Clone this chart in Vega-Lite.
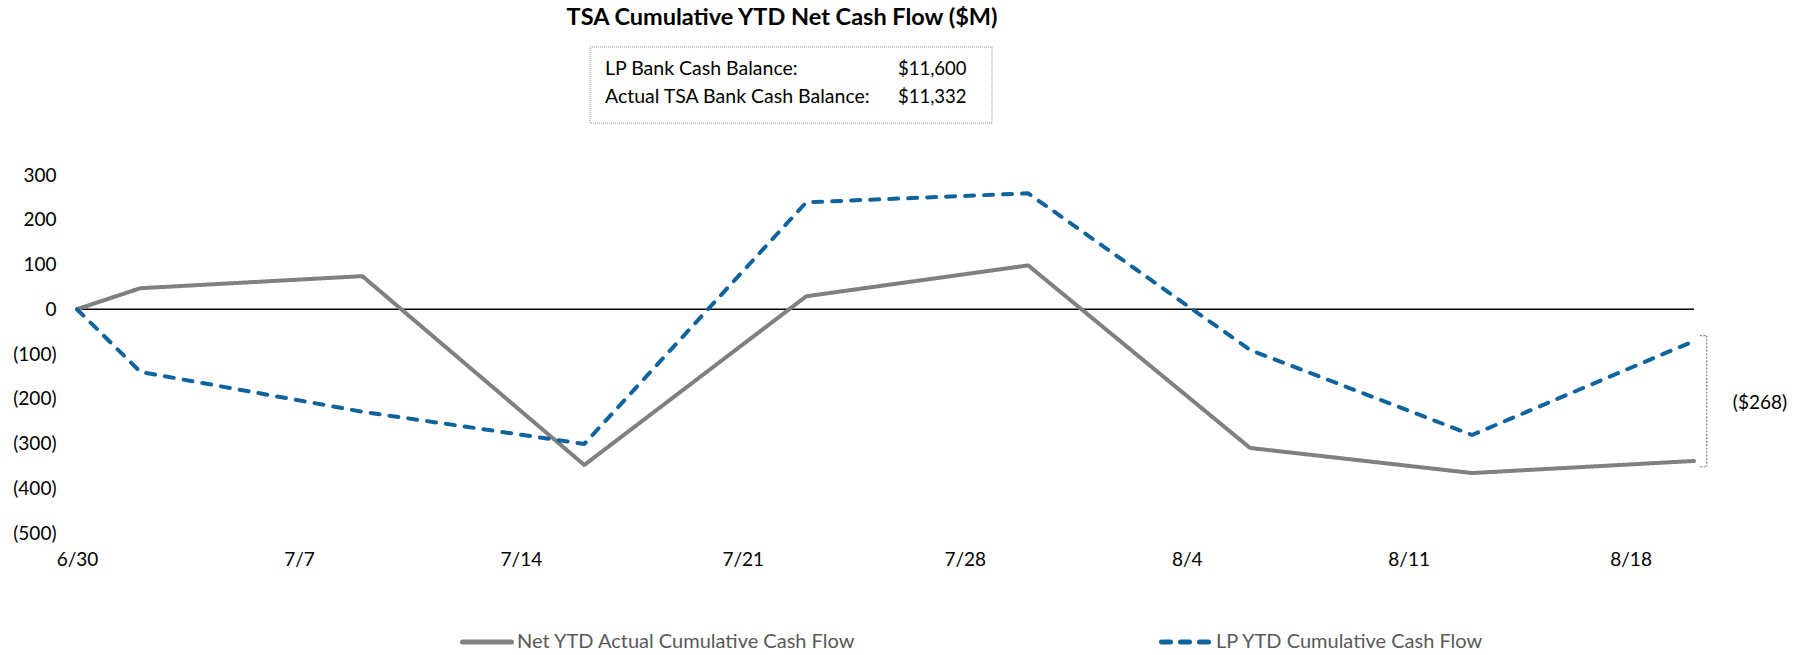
{
  "$schema": "https://vega.github.io/schema/vega-lite/v6.json",
  "autosize": {"type": "none"},
  "width": 1617,
  "height": 358,
  "padding": {"left": 77, "top": 175, "right": 119, "bottom": 122},
  "background": "white",
  "config": {
    "view": {"stroke": null},
    "font": "Lato",
    "axis": {"labelFont": "Lato", "labelFontSize": 19, "labelColor": "#000000"},
    "legend": {"labelFont": "Lato", "labelFontSize": 20, "labelColor": "#595959", "labelLimit": 0}
  },
  "data": {
    "values": [
      {"date": "2023-06-30", "series": "Net YTD Actual Cumulative Cash Flow", "value": 0},
      {"date": "2023-07-02", "series": "Net YTD Actual Cumulative Cash Flow", "value": 47},
      {"date": "2023-07-09", "series": "Net YTD Actual Cumulative Cash Flow", "value": 74},
      {"date": "2023-07-16", "series": "Net YTD Actual Cumulative Cash Flow", "value": -348},
      {"date": "2023-07-23", "series": "Net YTD Actual Cumulative Cash Flow", "value": 29},
      {"date": "2023-07-30", "series": "Net YTD Actual Cumulative Cash Flow", "value": 98},
      {"date": "2023-08-06", "series": "Net YTD Actual Cumulative Cash Flow", "value": -310},
      {"date": "2023-08-13", "series": "Net YTD Actual Cumulative Cash Flow", "value": -366},
      {"date": "2023-08-20", "series": "Net YTD Actual Cumulative Cash Flow", "value": -339},
      {"date": "2023-06-30", "series": "LP YTD Cumulative Cash Flow", "value": 0},
      {"date": "2023-07-02", "series": "LP YTD Cumulative Cash Flow", "value": -140},
      {"date": "2023-07-09", "series": "LP YTD Cumulative Cash Flow", "value": -229},
      {"date": "2023-07-16", "series": "LP YTD Cumulative Cash Flow", "value": -301},
      {"date": "2023-07-23", "series": "LP YTD Cumulative Cash Flow", "value": 239},
      {"date": "2023-07-30", "series": "LP YTD Cumulative Cash Flow", "value": 259},
      {"date": "2023-08-06", "series": "LP YTD Cumulative Cash Flow", "value": -91},
      {"date": "2023-08-13", "series": "LP YTD Cumulative Cash Flow", "value": -281},
      {"date": "2023-08-20", "series": "LP YTD Cumulative Cash Flow", "value": -71}
    ]
  },
  "layer": [
    {
      "data": {"values": [{}]},
      "mark": {"type": "rule", "color": "#000000", "strokeWidth": 1.4},
      "encoding": {"y": {"datum": 0, "type": "quantitative"}}
    },
    {
      "mark": {"type": "line", "strokeWidth": 4, "strokeCap": "round", "strokeJoin": "round"},
      "encoding": {
        "x": {
          "field": "date", "type": "temporal",
          "scale": {"type": "utc", "domain": [{"year": 2023, "month": 6, "date": 30, "utc": true}, {"year": 2023, "month": 8, "date": 20, "utc": true}]},
          "axis": {
            "title": null, "domain": false, "ticks": false, "tickSize": 0, "grid": false,
            "format": "%-m/%-d", "labelPadding": 17, "labelFlush": false, "labelOverlap": false,
            "values": [
              {"year": 2023, "month": 6, "date": 30, "utc": true},
              {"year": 2023, "month": 7, "date": 7, "utc": true},
              {"year": 2023, "month": 7, "date": 14, "utc": true},
              {"year": 2023, "month": 7, "date": 21, "utc": true},
              {"year": 2023, "month": 7, "date": 28, "utc": true},
              {"year": 2023, "month": 8, "date": 4, "utc": true},
              {"year": 2023, "month": 8, "date": 11, "utc": true},
              {"year": 2023, "month": 8, "date": 18, "utc": true}
            ]
          }
        },
        "y": {
          "field": "value", "type": "quantitative",
          "scale": {"domain": [-500, 300], "nice": false, "zero": false},
          "axis": {
            "title": null, "domain": false, "ticks": false, "tickSize": 0, "grid": false,
            "values": [-500, -400, -300, -200, -100, 0, 100, 200, 300],
            "labelPadding": 21, "labelFlush": false, "labelOverlap": false,
            "labelExpr": "datum.value < 0 ? '(' + format(-datum.value, ',') + ')' : format(datum.value, ',') + '\u00a0'"
          }
        },
        "color": {
          "field": "series", "type": "nominal",
          "scale": {"domain": ["Net YTD Actual Cumulative Cash Flow", "LP YTD Cumulative Cash Flow"], "range": ["#808080", "#10649e"]},
          "legend": {
            "title": null, "orient": "none", "direction": "horizontal", "columns": 2,
            "legendX": 383, "legendY": 440,
            "symbolType": "stroke", "symbolSize": 2401, "symbolStrokeWidth": 5,
            "labelOffset": 3, "columnPadding": 295, "labelLimit": 0,
            "encode": {"symbols": {"update": {"strokeCap": {"value": "round"}}}}
          }
        },
        "strokeDash": {
          "field": "series", "type": "nominal",
          "scale": {"domain": ["Net YTD Actual Cumulative Cash Flow", "LP YTD Cumulative Cash Flow"], "range": [[1, 0], [9, 10]]},
          "legend": {
            "title": null, "orient": "none", "direction": "horizontal", "columns": 2,
            "legendX": 383, "legendY": 440,
            "symbolType": "stroke", "symbolSize": 2401, "symbolStrokeWidth": 5,
            "labelOffset": 3, "columnPadding": 295, "labelLimit": 0,
            "encode": {"symbols": {"update": {"strokeCap": {"value": "round"}}}}
          }
        }
      }
    },
    {
      "data": {"values": [{}]},
      "mark": {"type": "rect", "fill": null, "stroke": "#8c8c8c", "strokeWidth": 1, "strokeDash": [1, 1], "clip": false},
      "encoding": {
        "x": {"datum": {"year": 2023, "month": 7, "date": 16, "hours": 4, "minutes": 20, "utc": true}, "type": "temporal"},
        "x2": {"datum": {"year": 2023, "month": 7, "date": 28, "hours": 20, "minutes": 36, "utc": true}},
        "y": {"datum": 586, "type": "quantitative"},
        "y2": {"datum": 416}
      }
    },
    {
      "data": {"values": [{}]},
      "mark": {"type": "text", "text": "TSA Cumulative YTD Net Cash Flow ($M)", "font": "Lato", "fontSize": 23.5, "fontWeight": "bold", "color": "#000000", "align": "center", "baseline": "middle"},
      "encoding": {
        "x": {"datum": {"year": 2023, "month": 7, "date": 22, "hours": 5, "minutes": 40, "utc": true}, "type": "temporal"},
        "y": {"datum": 651, "type": "quantitative"}
      }
    },
    {
      "data": {"values": [{}]},
      "mark": {"type": "text", "text": "LP Bank Cash Balance:", "font": "Lato", "fontSize": 19.5, "color": "#000000", "align": "left", "baseline": "middle"},
      "encoding": {
        "x": {"datum": {"year": 2023, "month": 7, "date": 16, "hours": 15, "minutes": 40, "utc": true}, "type": "temporal"},
        "y": {"datum": 536, "type": "quantitative"}
      }
    },
    {
      "data": {"values": [{}]},
      "mark": {"type": "text", "text": "Actual TSA Bank Cash Balance:", "font": "Lato", "fontSize": 19.5, "color": "#000000", "align": "left", "baseline": "middle"},
      "encoding": {
        "x": {"datum": {"year": 2023, "month": 7, "date": 16, "hours": 15, "minutes": 40, "utc": true}, "type": "temporal"},
        "y": {"datum": 474, "type": "quantitative"}
      }
    },
    {
      "data": {"values": [{}]},
      "mark": {"type": "text", "text": "$11,600", "font": "Lato", "fontSize": 18.5, "color": "#000000", "align": "left", "baseline": "middle"},
      "encoding": {
        "x": {"datum": {"year": 2023, "month": 7, "date": 25, "hours": 21, "minutes": 27, "utc": true}, "type": "temporal"},
        "y": {"datum": 536, "type": "quantitative"}
      }
    },
    {
      "data": {"values": [{}]},
      "mark": {"type": "text", "text": "$11,332", "font": "Lato", "fontSize": 18.5, "color": "#000000", "align": "left", "baseline": "middle"},
      "encoding": {
        "x": {"datum": {"year": 2023, "month": 7, "date": 25, "hours": 21, "minutes": 27, "utc": true}, "type": "temporal"},
        "y": {"datum": 474, "type": "quantitative"}
      }
    },
    {
      "data": {"values": [{}]},
      "mark": {"type": "rule", "color": "#7f7f7f", "strokeWidth": 1.2, "strokeDash": [2, 1.5], "clip": false},
      "encoding": {
        "x": {"datum": {"year": 2023, "month": 8, "date": 20, "hours": 9, "minutes": 36, "utc": true}, "type": "temporal"},
        "y": {"datum": -59, "type": "quantitative"},
        "y2": {"datum": -352}
      }
    },
    {
      "data": {"values": [{}]},
      "mark": {"type": "rule", "color": "#7f7f7f", "strokeWidth": 1.2, "strokeDash": [2, 1.5], "clip": false},
      "encoding": {
        "x": {"datum": {"year": 2023, "month": 8, "date": 20, "hours": 4, "minutes": 30, "utc": true}, "type": "temporal"},
        "x2": {"datum": {"year": 2023, "month": 8, "date": 20, "hours": 9, "minutes": 36, "utc": true}},
        "y": {"datum": -59, "type": "quantitative"}
      }
    },
    {
      "data": {"values": [{}]},
      "mark": {"type": "rule", "color": "#7f7f7f", "strokeWidth": 1.2, "strokeDash": [2, 1.5], "clip": false},
      "encoding": {
        "x": {"datum": {"year": 2023, "month": 8, "date": 20, "hours": 4, "minutes": 30, "utc": true}, "type": "temporal"},
        "x2": {"datum": {"year": 2023, "month": 8, "date": 20, "hours": 9, "minutes": 36, "utc": true}},
        "y": {"datum": -352, "type": "quantitative"}
      }
    },
    {
      "data": {"values": [{}]},
      "mark": {"type": "text", "text": "($268)", "font": "Lato", "fontSize": 19, "color": "#000000", "align": "center", "baseline": "middle", "clip": false},
      "encoding": {
        "x": {"datum": {"year": 2023, "month": 8, "date": 22, "hours": 1, "minutes": 55, "utc": true}, "type": "temporal"},
        "y": {"datum": -209.5, "type": "quantitative"}
      }
    }
  ]
}
